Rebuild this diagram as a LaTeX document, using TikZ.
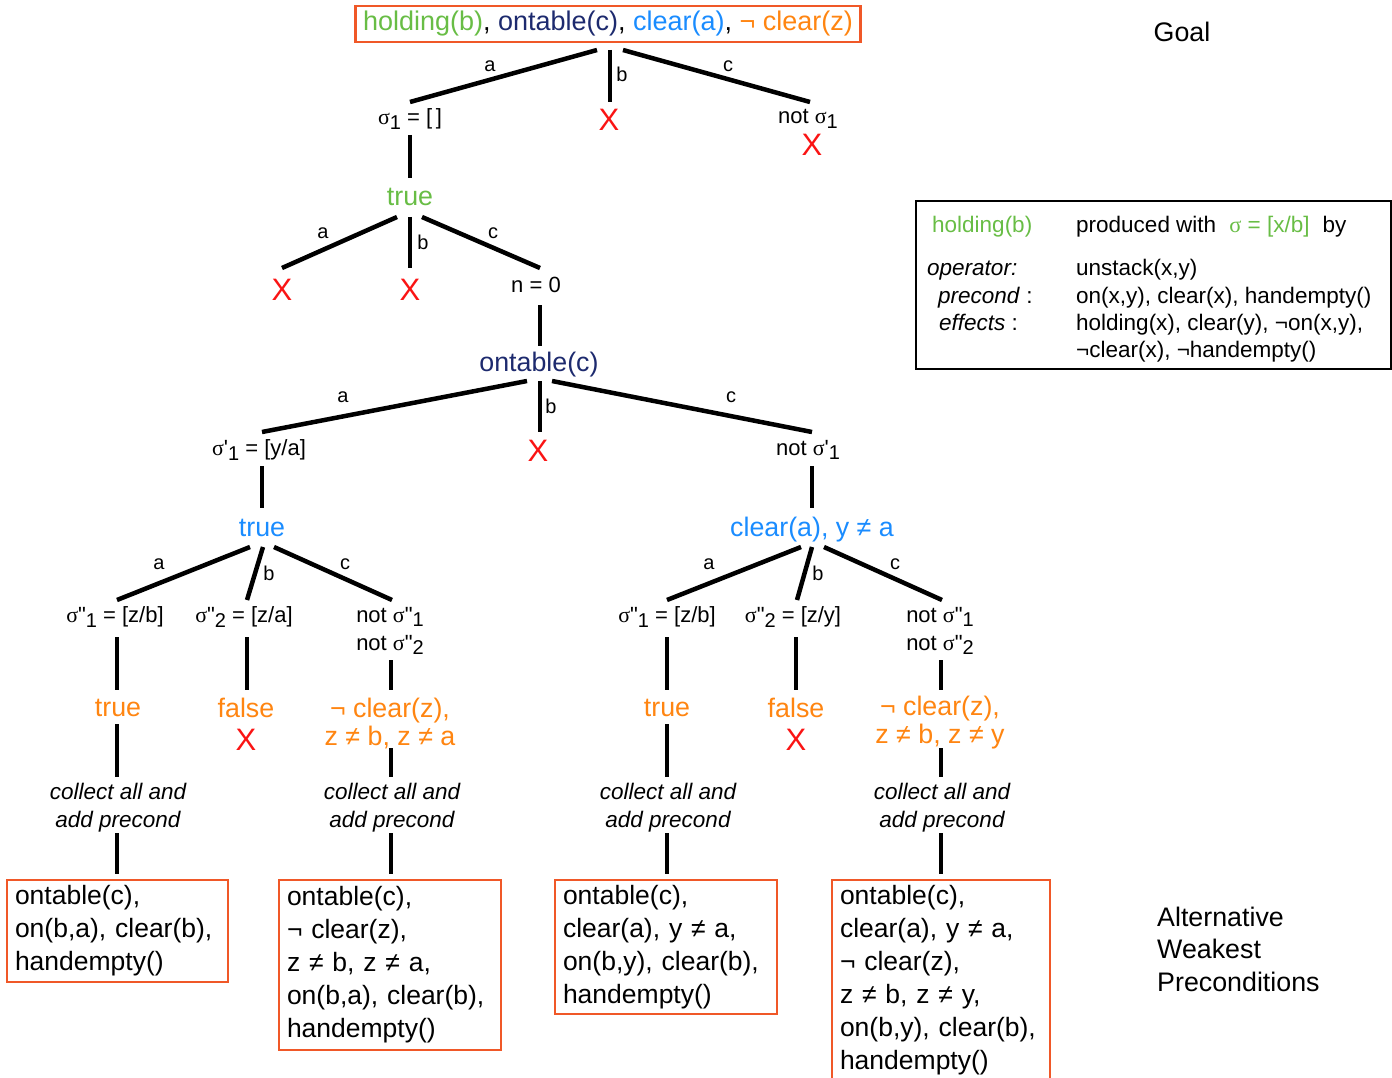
\documentclass[tikz,border=0pt]{standalone}
\usepackage{fontspec}
\newfontfamily\hv{Liberation Sans}
\newfontfamily\sg{Liberation Serif}
\usetikzlibrary{calc}
\definecolor{cgreen}{RGB}{104,189,69}
\definecolor{cnavy}{RGB}{29,42,110}
\definecolor{cblue}{RGB}{26,140,255}
\definecolor{corange}{RGB}{255,133,17}
\definecolor{cbox}{RGB}{240,88,40}
\definecolor{cred}{RGB}{250,20,20}
\newcommand\sig{{\sg σ}}
\newcommand\dn[1]{\raisebox{-0.4ex}{\fontsize{20}{20}\selectfont #1}}
\newcommand\pr{\char39\relax}
\newcommand\dpr{\char34\relax}
\begin{document}
\begin{tikzpicture}[x=1pt,y=-1pt,
  txt/.style={font=\hv\fontsize{22}{28}\selectfont, inner sep=0pt},
  big/.style={font=\hv\fontsize{26.8}{28}\selectfont, inner sep=0pt},
  two/.style={font=\hv\fontsize{26.8}{28}\selectfont, inner sep=0pt, align=center},
  stack/.style={font=\hv\fontsize{22}{28}\selectfont, inner sep=0pt, align=left},
  lbl/.style={font=\hv\fontsize{20}{20}\selectfont, inner sep=0pt},
  xm/.style={font=\hv\fontsize{31}{31}\selectfont, text=cred, inner sep=0pt},
  note/.style={font=\hv\itshape\fontsize{22.5}{28}\selectfont, inner sep=0pt, align=center},
  legtxt/.style={font=\hv\fontsize{22.5}{27}\selectfont, inner sep=0pt, anchor=base west},
  edge/.style={line width=4.5pt},
  res/.style={draw=cbox, line width=2.5pt, anchor=north west, align=left, outer sep=0pt,
    inner xsep=8pt, inner ysep=0pt, font=\hv\fontsize{26.5}{33}\selectfont},
]
\useasboundingbox (0,0) rectangle (1392,1078);

% ---- goal and first level
\node[draw=cbox, line width=2.5pt, minimum width=505pt, minimum height=36pt, inner sep=0pt,
      font=\hv\fontsize{27}{28}\selectfont] (goal) at (608,24)
  {{\color{cgreen}holding(b)}, {\color{cnavy}ontable(c)}, {\color{cblue}clear(a)}, {\color{corange}¬ clear(z)}};
\node[big] (goallbl) at (1182,32) {Goal};

\node[txt] (s1) at (410,119) {\sig\dn{1} = [\,]};
\node[xm] (x1) at (609,120) {X};
\node[txt] (ns1) at (808,119) {not \sig\dn{1}};
\node[xm] (x2) at (812,145) {X};

\draw[edge] ($(goal)+(-11,26)$) -- ($(s1)+(0,-17)$);
\draw[edge] ($(goal)+(2,26)$) -- ($(x1)+(1,-18)$);
\draw[edge] ($(goal)+(15,26)$) -- ($(ns1)+(2,-17)$);
\node[lbl] (ga) at (490,66) {a};
\node[lbl] (gb) at (622,74) {b};
\node[lbl] (gc) at (728,66) {c};

% ---- holding(b) solved
\node[big, text=cgreen] (t1) at (410,197) {true};
\draw[edge] ($(s1)+(0,16)$) -- ($(t1)+(0,-19)$);

\node[xm] (x3) at (282,290) {X};
\node[xm] (x4) at (410,290) {X};
\node[txt] (n0) at (536,285) {n = 0};
\draw[edge] ($(t1)+(-13,20)$) -- ($(x3)+(0,-22)$);
\draw[edge] ($(t1)+(0,20)$) -- ($(x4)+(0,-22)$);
\draw[edge] ($(t1)+(12,20)$) -- ($(n0)+(4,-17)$);
\node[lbl] (ta) at (323,233) {a};
\node[lbl] (tb) at (423,242) {b};
\node[lbl] (tc) at (493,233) {c};

% ---- ontable(c)
\node[big, text=cnavy] (oc) at (539,365) {ontable(c)};
\draw[edge] ($(n0)+(4,20)$) -- ($(oc)+(1,-19)$);

\node[txt] (sp1) at (259,450) {\sig\pr\dn{1} = [y/a]};
\node[xm] (x5) at (538,451) {X};
\node[txt] (nsp1) at (808,450) {not \sig\pr\dn{1}};
\draw[edge] ($(oc)+(-12,16)$) -- ($(sp1)+(3,-18)$);
\draw[edge] ($(oc)+(1,16)$) -- ($(x5)+(2,-19)$);
\draw[edge] ($(oc)+(13,16)$) -- ($(nsp1)+(4,-18)$);
\node[lbl] (oa) at (343,397) {a};
\node[lbl] (ob) at (551,406) {b};
\node[lbl] (ocl) at (731,397) {c};

% ---- clear(a)
\node[big, text=cblue] (t2) at (262,528) {true};
\node[big, text=cblue] (ca) at (812,530) {clear(a), y ≠ a};
\draw[edge] ($(sp1)+(3,16)$) -- ($(t2)+(0,-20)$);
\draw[edge] ($(nsp1)+(4,16)$) -- ($(ca)+(0,-22)$);

% ---- left branch: clear(z)
\node[txt] (l1) at (115,617) {\sig\dpr\dn{1} = [z/b]};
\node[txt] (l2) at (244,617) {\sig\dpr\dn{2} = [z/a]};
\node[stack] (l3) at (390,631) {not \sig\dpr\dn{1}\\not \sig\dpr\dn{2}};
\draw[edge] ($(t2)+(-12,19)$) -- ($(l1)+(2,-17)$);
\draw[edge] ($(t2)+(1,19)$) -- ($(l2)+(3,-17)$);
\draw[edge] ($(t2)+(12,19)$) -- ($(l3)+(2,-31)$);
\node[lbl] (la) at (159,564) {a};
\node[lbl] (lb) at (269,573) {b};
\node[lbl] (lcl) at (345,564) {c};

\node[big, text=corange] (lt) at (118,708) {true};
\node[big, text=corange] (lf) at (246,708) {false};
\node[xm] (x6) at (246,740) {X};
\node[two, text=corange] (lc) at (390,723) {¬ clear(z),\\z ≠ b, z ≠ a};
\draw[edge] ($(l1)+(2,20)$) -- ($(lt)+(-1,-18)$);
\draw[edge] ($(l2)+(3,20)$) -- ($(lf)+(1,-18)$);
\draw[edge] ($(l3)+(1,29)$) -- ($(lc)+(1,-33)$);

\node[note] (lcol1) at (118,808) {collect all and\\add precond};
\node[note] (lcol2) at (392,808) {collect all and\\add precond};
\draw[edge] ($(lt)+(-1,16)$) -- ($(lcol1)+(-1,-31)$);
\draw[edge] ($(lc)+(1,25)$) -- ($(lcol2)+(-1,-31)$);

\node[res, text width=205pt, minimum height=102pt] (b1) at (7,880)
  {ontable(c),\\on(b,a), clear(b),\\handempty()};
\node[res, text width=206pt, minimum height=170pt] (b2) at (279,880)
  {ontable(c),\\¬ clear(z),\\z ≠ b, z ≠ a,\\on(b,a), clear(b),\\handempty()};
\draw[edge] ($(lcol1)+(-1,25)$) -- ($(lcol1|-b1.north)+(-1,-6)$);
\draw[edge] ($(lcol2)+(-1,25)$) -- ($(lcol2|-b2.north)+(-1,-6)$);

% ---- right branch: clear(z)
\node[txt] (r1) at (667,617) {\sig\dpr\dn{1} = [z/b]};
\node[txt] (r2) at (793,617) {\sig\dpr\dn{2} = [z/y]};
\node[stack] (r3) at (940,631) {not \sig\dpr\dn{1}\\not \sig\dpr\dn{2}};
\draw[edge] ($(ca)+(-11,17)$) -- ($(r1)+(0,-17)$);
\draw[edge] ($(ca)+(0,17)$) -- ($(r2)+(4,-17)$);
\draw[edge] ($(ca)+(12,17)$) -- ($(r3)+(2,-31)$);
\node[lbl] (ra) at (709,564) {a};
\node[lbl] (rb) at (818,573) {b};
\node[lbl] (rcl) at (895,564) {c};

\node[big, text=corange] (rt) at (667,708) {true};
\node[big, text=corange] (rf) at (796,708) {false};
\node[xm] (x7) at (796,740) {X};
\node[two, text=corange] (rc) at (940,723) {¬ clear(z),\\z ≠ b, z ≠ y};
\draw[edge] ($(r1)+(0,20)$) -- ($(rt)+(0,-18)$);
\draw[edge] ($(r2)+(3,20)$) -- ($(rf)+(0,-18)$);
\draw[edge] ($(r3)+(1,29)$) -- ($(rc)+(1,-33)$);

\node[note] (rcol1) at (668,808) {collect all and\\add precond};
\node[note] (rcol2) at (942,808) {collect all and\\add precond};
\draw[edge] ($(rt)+(0,16)$) -- ($(rcol1)+(-1,-31)$);
\draw[edge] ($(rc)+(1,25)$) -- ($(rcol2)+(-1,-31)$);

\node[res, text width=206pt, minimum height=134pt] (b3) at (555,880)
  {ontable(c),\\clear(a), y ≠ a,\\on(b,y), clear(b),\\handempty()};
\node[res, text width=202pt, minimum height=200pt] (b4) at (832,880)
  {ontable(c),\\clear(a), y ≠ a,\\¬ clear(z),\\z ≠ b, z ≠ y,\\on(b,y), clear(b),\\handempty()};
\draw[edge] ($(rcol1)+(-1,25)$) -- ($(rcol1|-b3.north)+(-1,-6)$);
\draw[edge] ($(rcol2)+(-1,25)$) -- ($(rcol2|-b4.north)+(-1,-6)$);

\node[font=\hv\fontsize{26.8}{32.5}\selectfont, inner sep=0pt, align=left, anchor=west]
  (alt) at (1157,949) {Alternative\\Weakest\\Preconditions};

% ---- operator legend
\node[draw, line width=2pt, minimum width=475pt, minimum height=168pt, inner sep=0pt]
  (leg) at (1153.5,285) {};
\node[legtxt, text=cgreen] (lh) at (932,233) {holding(b)};
\node[legtxt] (lp) at (1076,233)
  {produced with\hspace{13pt}{\color{cgreen}\sig{} = [x/b]}\hspace{13pt}by};
\node[legtxt] (lo) at (927,275) {\itshape operator:};
\node[legtxt] (lu) at (1076,275) {unstack(x,y)};
\node[legtxt] (lpc) at (938,303) {\textit{precond} :};
\node[legtxt] (lpr) at (1076,303) {on(x,y), clear(x), handempty()};
\node[legtxt] (le) at (939,330) {\textit{effects} :};
\node[legtxt] (lef) at (1076,330) {holding(x), clear(y), ¬on(x,y),};
\node[legtxt] (lef2) at (1076,357) {¬clear(x), ¬handempty()};
\end{tikzpicture}
\end{document}
